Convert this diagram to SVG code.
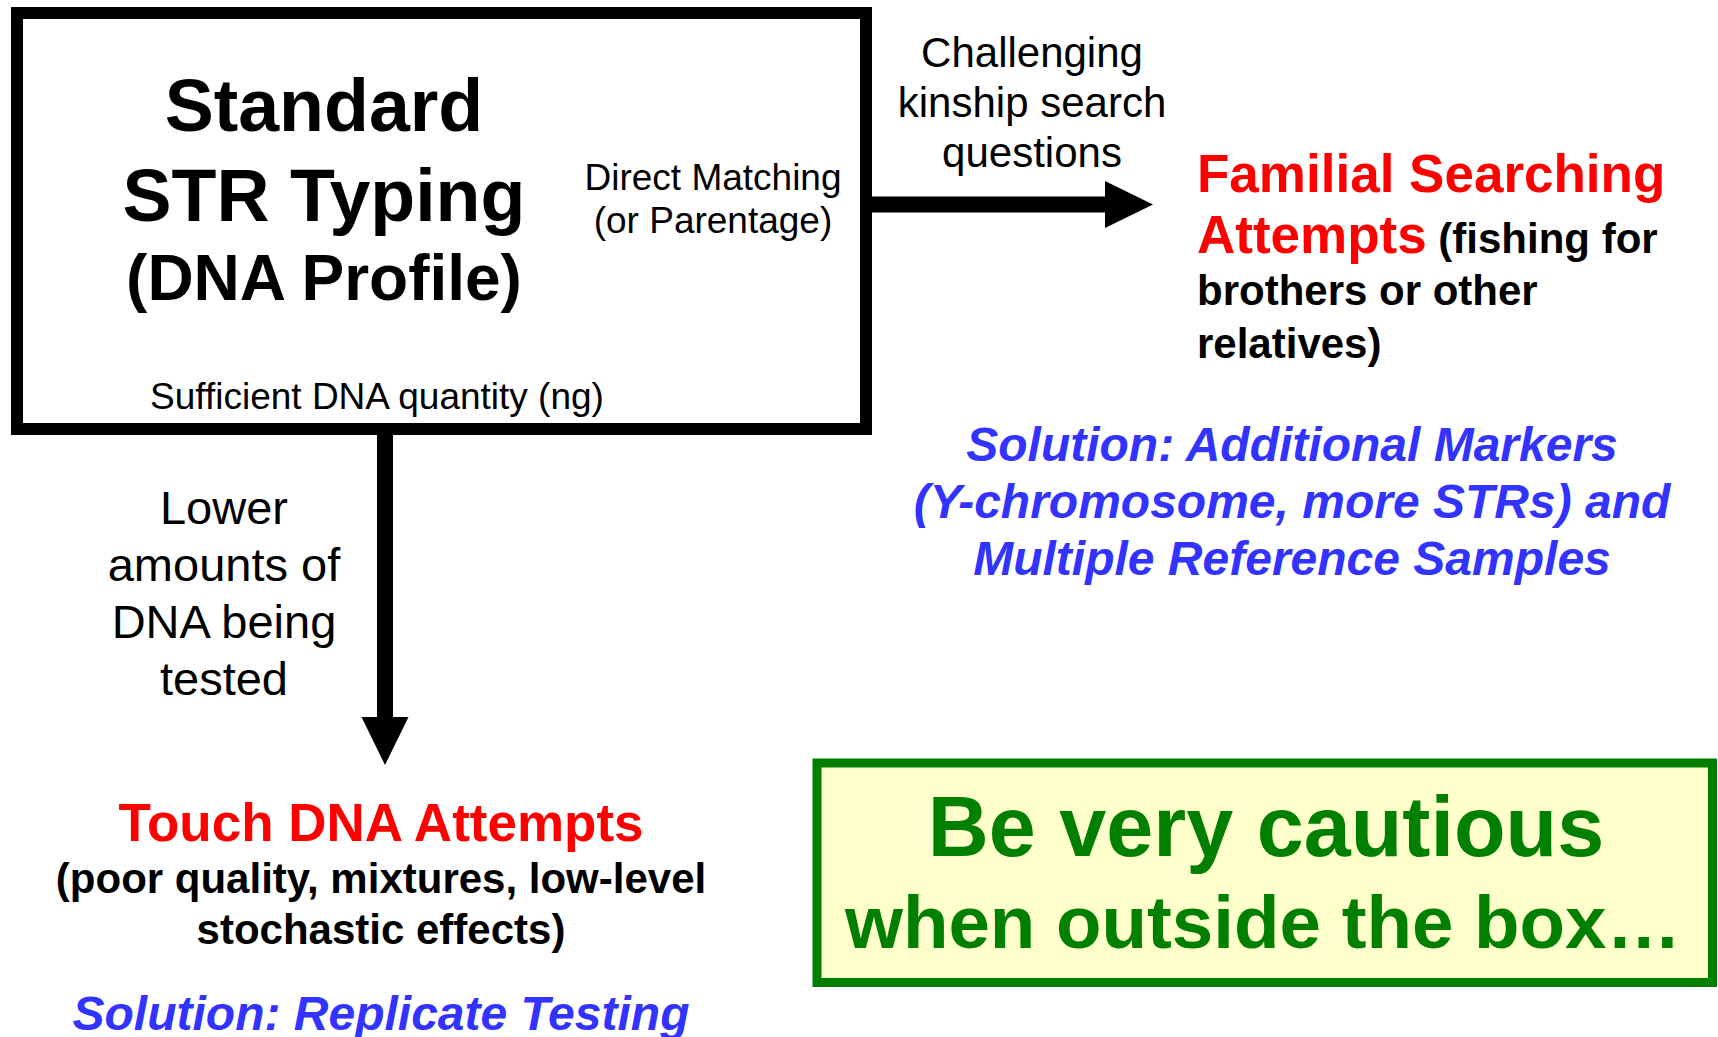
<svg xmlns="http://www.w3.org/2000/svg" width="1718" height="1037" viewBox="0 0 1718 1037">
<style>
text{font-family:"Liberation Sans",Arial,Helvetica,sans-serif;text-anchor:middle}
.b{font-weight:bold}
.red{fill:#FF0000;font-weight:bold}
.sol{fill:#3333FF;font-weight:bold;font-style:italic}
.grn{fill:#007F00;font-weight:bold}
.conn{stroke:#000000;fill:none}
</style>
<defs>
<marker id="ah" markerUnits="userSpaceOnUse" markerWidth="48" markerHeight="47" refX="0" refY="23.5" orient="auto" overflow="visible">
<path d="M0,0 L48,23.5 L0,47 Z" fill="#000000"/>
</marker>
</defs>
<rect width="1718" height="1037" fill="#FFFFFF"/>

<g id="node-str">
<rect x="17" y="13" width="849" height="416" fill="#FFFFFF" stroke="#000000" stroke-width="12"/>
<text class="b" x="324" y="131" font-size="73.5">Standard</text>
<text class="b" x="324" y="221" font-size="73.5">STR Typing</text>
<text class="b" x="324" y="300" font-size="64">(DNA Profile)</text>
<text x="377" y="409" font-size="37">Sufficient DNA quantity (ng)</text>
</g>

<g id="connectors">
<line class="conn" x1="866" y1="204.5" x2="1105" y2="204.5" stroke-width="16" marker-end="url(#ah)"/>
<line class="conn" x1="385" y1="428" x2="385" y2="717" stroke-width="16" marker-end="url(#ah)"/>
<g id="label-direct">
<text x="713" y="190" font-size="37">Direct Matching</text>
<text x="713" y="233" font-size="37">(or Parentage)</text>
</g>
<g id="label-kinship">
<text x="1032" y="67" font-size="42">Challenging</text>
<text x="1032" y="117" font-size="42">kinship search</text>
<text x="1032" y="167" font-size="42">questions</text>
</g>
<g id="label-lower">
<text x="224" y="524" font-size="47">Lower</text>
<text x="224" y="581" font-size="47">amounts of</text>
<text x="224" y="638" font-size="47">DNA being</text>
<text x="224" y="695" font-size="47">tested</text>
</g>
</g>

<g id="node-familial">
<text x="1197" y="191.5" font-size="53" style="text-anchor:start" class="red">Familial Searching</text>
<text x="1197" y="253" style="text-anchor:start"><tspan class="red" font-size="53">Attempts</tspan><tspan class="b" font-size="42"> (fishing for</tspan></text>
<text class="b" x="1197" y="305" font-size="42" style="text-anchor:start">brothers or other</text>
<text class="b" x="1197" y="358" font-size="42" style="text-anchor:start">relatives)</text>
<text class="sol" x="1292" y="461" font-size="48">Solution: Additional Markers</text>
<text class="sol" x="1292" y="518" font-size="48">(Y-chromosome, more STRs) and</text>
<text class="sol" x="1292" y="575" font-size="48">Multiple Reference Samples</text>
</g>

<g id="node-touch">
<text class="red" x="381" y="841" font-size="53">Touch DNA Attempts</text>
<text class="b" x="381" y="893" font-size="42">(poor quality, mixtures, low-level</text>
<text class="b" x="381" y="944" font-size="42">stochastic effects)</text>
<text class="sol" x="381" y="1030" font-size="48">Solution: Replicate Testing</text>
</g>

<g id="node-caution">
<rect x="817" y="763" width="895.5" height="219.5" fill="#FFFFCC" stroke="#007F00" stroke-width="9"/>
<text class="grn" x="1266" y="856" font-size="84.5">Be very cautious</text>
<text class="grn" x="1263" y="948" font-size="74.5">when outside the box…</text>
</g>
</svg>
